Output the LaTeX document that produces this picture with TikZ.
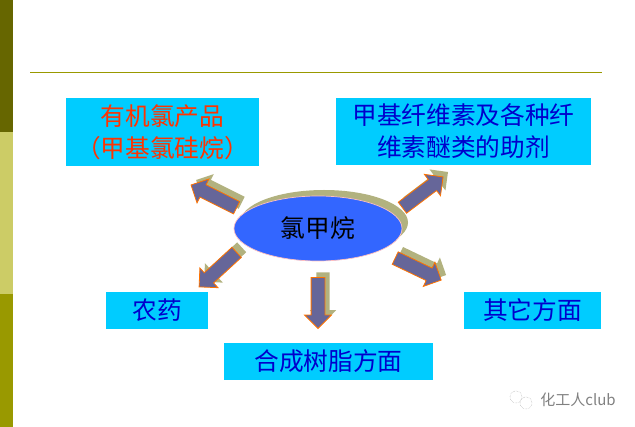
\documentclass[tikz,border=0pt]{standalone}
\usepackage{fontspec}
\setmainfont{Noto Sans CJK SC}
\usetikzlibrary{shapes.geometric,shapes.arrows}
\definecolor{bardark}{HTML}{666600}
\definecolor{barlight}{HTML}{CCCC66}
\definecolor{barmid}{HTML}{999900}
\definecolor{boxblue}{HTML}{00CCFF}
\definecolor{shadow}{HTML}{B2B27F}
\definecolor{arrowfill}{HTML}{666699}
\definecolor{textred}{HTML}{FF3300}
\tikzset{
	labelbox/.style={fill=boxblue,inner sep=0pt,align=center,text=blue!80!black,font=\fontsize{24.7}{32}\selectfont},
	blockarrow/.style={single arrow,inner sep=0pt,text width=1pt,text height=13pt,text depth=0pt,minimum height=51pt,single arrow head extend=6.5pt},
	arrowfront/.style={blockarrow,fill=arrowfill,draw=orange!90!red,line width=0.8pt},
	arrowback/.style={blockarrow,fill=shadow,xshift=5pt,yshift=5pt},
}

\begin{document}
\begin{tikzpicture}[x=1pt,y=-1pt]
			\useasboundingbox (0,0) rectangle (635,427);
			\fill[bardark] (0,0) rectangle (13,132);
			\fill[barlight] (0,132) rectangle (13,294);
			\fill[barmid] (0,294) rectangle (13,427);
			\draw[barmid,line width=1pt] (30,73) -- (602,73);
			
			\node[labelbox,minimum width=193pt,minimum height=68pt,text=textred] (organo) at (162.5,132) {有机氯产品\\（甲基氯硅烷）};
			\node[labelbox,minimum width=255pt,minimum height=67pt] (cellulose) at (463.5,131.5) {甲基纤维素及各种纤\\维素醚类的助剂};
			\node[labelbox,minimum width=102pt,minimum height=37pt] (pesticide) at (157,310.5) {农药};
			\node[labelbox,minimum width=137pt,minimum height=37pt] (others) at (532.5,310.5) {其它方面};
			\node[labelbox,minimum width=209pt,minimum height=37pt] (resin) at (328.5,361.5) {合成树脂方面};
			
			\node[ellipse,fill=shadow,inner sep=0pt,minimum width=168pt,minimum height=65pt] (methylback) at (324,222.5) {};
			\node[ellipse,fill={rgb,255:red,51;green,102;blue,255},draw=pink,line width=0.7pt,inner sep=0pt,minimum width=168pt,minimum height=65pt,font=\fontsize{24.7}{28}\selectfont] (methyl) at (318,228.5) {氯甲烷};
			
			\node[arrowback,rotate=153.4] (ulback) at (216.9,197.9) {};
			\node[arrowfront,rotate=153.4] (ul) at (216.9,197.9) {};
			\node[arrowback,rotate=37.1] (urback) at (420,194.4) {};
			\node[arrowfront,rotate=37.1] (ur) at (420,194.4) {};
			\node[arrowback,rotate=222.6] (llback) at (220.4,267.3) {};
			\node[arrowfront,rotate=222.6] (ll) at (220.4,267.3) {};
			\node[arrowback,rotate=-25.6] (lrback) at (415.1,267.6) {};
			\node[arrowfront,rotate=-25.6] (lr) at (415.1,267.6) {};
			\node[arrowback,rotate=270] (downback) at (318,299.5) {};
			\node[arrowfront,rotate=270] (down) at (318,299.5) {};
			
			\draw[gray!60,line width=0.5pt,densely dotted] (516,397) circle (6pt);
			\draw[gray!60,line width=0.5pt,densely dotted] (526,403) circle (6pt);
			\node[text=gray,inner sep=0pt,font=\fontsize{15}{17}\selectfont] (mark) at (578,400) {化工人club};
\end{tikzpicture}
\end{document}
